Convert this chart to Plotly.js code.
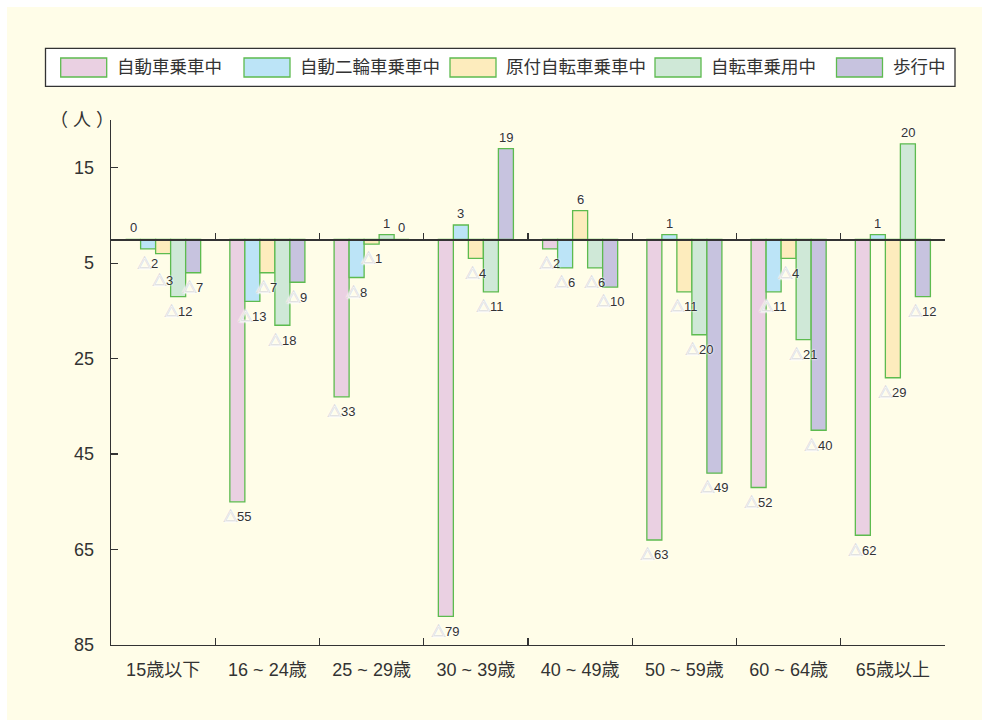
<!DOCTYPE html>
<html>
<head>
<meta charset="utf-8">
<script src="https://cdn.plot.ly/plotly-3.0.1.min.js"></script>
<style>
  html, body { margin: 0; padding: 0; background: #ffffff; }
  #chart { position: absolute; left: 7px; top: 7px; width: 975px; height: 713px; }
</style>
</head>
<body>
<div id="chart"></div>
<script>
// Change in traffic fatalities by age group and road-user type (persons)
const ageGroups = ['15歳以下', '16 ~ 24歳', '25 ~ 29歳', '30 ~ 39歳', '40 ~ 49歳', '50 ~ 59歳', '60 ~ 64歳', '65歳以上'];
const seriesNames = ['自動車乗車中', '自動二輪車乗車中', '原付自転車乗車中', '自転車乗用中', '歩行中'];

const carOccupants     = [0, -55, -33, -79, -2, -63, -52, -62];
const motorcycleRiders = [-2, -13, -8, 3, -6, 1, -11, 1];
const mopedRiders      = [-3, -7, -1, -4, 6, -11, -4, -29];
const cyclists         = [-12, -18, 1, -11, -6, -20, -21, 20];
const pedestrians      = [-7, -9, 0, 19, -10, -49, -40, -12];

const yTickValues = [15, -5, -25, -45, -65, -85];
const yTickLabels = ['15', '5', '25', '45', '65', '85'];
const yUnit = '（ 人 ）';

const seriesValues = [carOccupants, motorcycleRiders, mopedRiders, cyclists, pedestrians];
const seriesColors = ['#ead0e2', '#bce4f7', '#fdecbd', '#cfe8d7', '#c7c3df'];
const outlineColor = '#5dbb4f';
const inkColor = '#333333';
const creamColor = '#fffde8';
const fontFamily = '"Liberation Sans", "Noto Sans CJK JP", Arial, sans-serif';

const yRange = [-85, 25];
const barGap = 0.28;

// decreases are written with a white triangle in front of the magnitude
function valueLabel(v) {
  if (v < 0) {
    return '<span style="color:#ffffff;stroke:#c4c4c4;stroke-width:1.1px;paint-order:stroke">△</span>' + (-v);
  }
  return String(v);
}

const traces = seriesValues.map((vals, i) => ({
  type: 'bar',
  name: seriesNames[i],
  x: ageGroups,
  y: vals,
  marker: { color: seriesColors[i], line: { color: outlineColor, width: 1.3 } },
  showlegend: false,
  hoverinfo: 'skip'
}));

// helper trace that carries the baseline axis with its category-boundary ticks
traces.push({ type: 'scatter', x: [], y: [], xaxis: 'x2', yaxis: 'y', showlegend: false, hoverinfo: 'skip' });

const boundaries = ageGroups.map((_, i) => i - 0.5).concat([ageGroups.length - 0.5]);

// page geometry of the plotting area (px, relative to the chart div)
const M = { l: 104, r: 37, t: 113, b: 75 };
const W = 975, H = 713;
const PW = W - M.l - M.r, PH = H - M.t - M.b;
const px = x => (x - 7 - M.l) / PW;
const py = y => 1 - (y - 7 - M.t) / PH;
const pxPerUnit = PH / (yRange[1] - yRange[0]);

const shapes = [];
const annotations = [];

// value labels: above rising bars, below falling ones; a label that would
// collide with its left neighbour's label is pushed further down
const nSeries = seriesValues.length;
const barStep = (1 - barGap) / nSeries;
const belowGap = 14.8, aboveGap = 11.5, minSep = 15, pushSep = 17;
ageGroups.forEach((g, c) => {
  let prevBelow = null;
  seriesValues.forEach((vals, s) => {
    const v = vals[c];
    const xPos = c + (s - (nSeries - 1) / 2) * barStep;
    let shift;
    if (v < 0) {
      let depth = -v * pxPerUnit + belowGap;
      if (prevBelow !== null && Math.abs(depth - prevBelow) < minSep) depth = prevBelow + pushSep;
      prevBelow = depth;
      shift = -depth - v * pxPerUnit; // measured from the bar end
    } else {
      prevBelow = null;
      shift = aboveGap;
    }
    annotations.push({
      xref: 'x', yref: 'y', x: xPos, y: v,
      xanchor: 'center', yanchor: 'middle', yshift: shift,
      showarrow: false, text: valueLabel(v),
      font: { family: fontFamily, size: 13, color: inkColor, shadow: '0 0 2px #ffffff, 0 0 2px #ffffff' }
    });
  });
});

// legend box
shapes.push({ type: 'rect', xref: 'paper', yref: 'paper', x0: px(45.5), x1: px(955), y0: py(86.3), y1: py(48.3),
  line: { color: inkColor, width: 1.3 }, fillcolor: '#ffffff', layer: 'above' });
const swatchLeft = [60.7, 244, 450, 655, 836.5];
seriesNames.forEach((name, i) => {
  shapes.push({ type: 'rect', xref: 'paper', yref: 'paper',
    x0: px(swatchLeft[i]), x1: px(swatchLeft[i] + 46), y0: py(77), y1: py(58),
    line: { color: outlineColor, width: 1.3 }, fillcolor: seriesColors[i], layer: 'above' });
  annotations.push({ xref: 'paper', yref: 'paper', x: px(swatchLeft[i] + 54), y: py(67.5),
    xanchor: 'left', yanchor: 'middle', showarrow: false, text: name,
    font: { family: fontFamily, size: 17.5, color: inkColor } });
});

// unit label above the value axis
annotations.push({ xref: 'paper', yref: 'paper', x: px(82), y: py(120), xanchor: 'center', yanchor: 'middle',
  showarrow: false, text: yUnit, font: { family: fontFamily, size: 18, color: inkColor } });

const layout = {
  width: W, height: H,
  margin: M,
  paper_bgcolor: creamColor,
  plot_bgcolor: creamColor,
  barmode: 'group',
  bargap: barGap,
  bargroupgap: 0,
  showlegend: false,
  font: { family: fontFamily, color: inkColor },
  xaxis: {
    type: 'category',
    categoryorder: 'array', categoryarray: ageGroups,
    range: [-0.5, ageGroups.length - 0.5],
    tickson: 'boundaries',
    ticks: 'inside', ticklen: 7, tickwidth: 1.2, tickcolor: inkColor,
    showline: true, linecolor: inkColor, linewidth: 1.3,
    showgrid: false, zeroline: false,
    tickfont: { family: fontFamily, size: 18, color: inkColor },
    ticklabelstandoff: 8,
    fixedrange: true
  },
  xaxis2: {
    overlaying: 'x', anchor: 'free',
    position: (0 - yRange[0]) / (yRange[1] - yRange[0]),
    range: [-0.5, ageGroups.length - 0.5],
    tickmode: 'array', tickvals: boundaries,
    ticks: 'inside', ticklen: 6, tickwidth: 1.2, tickcolor: inkColor,
    showticklabels: false, showgrid: false, zeroline: false,
    showline: true, linecolor: inkColor, linewidth: 1.3,
    layer: 'above traces', fixedrange: true
  },
  yaxis: {
    range: yRange,
    tickmode: 'array', tickvals: yTickValues, ticktext: yTickLabels,
    ticks: 'inside', ticklen: 7, tickwidth: 1.2, tickcolor: inkColor,
    showline: true, linecolor: inkColor, linewidth: 1.3,
    showgrid: false, zeroline: false,
    tickfont: { family: fontFamily, size: 18, color: inkColor },
    ticklabelstandoff: 12,
    fixedrange: true
  },
  shapes: shapes,
  annotations: annotations
};

Plotly.newPlot('chart', traces, layout, { displayModeBar: false, staticPlot: true });
</script>
</body>
</html>
